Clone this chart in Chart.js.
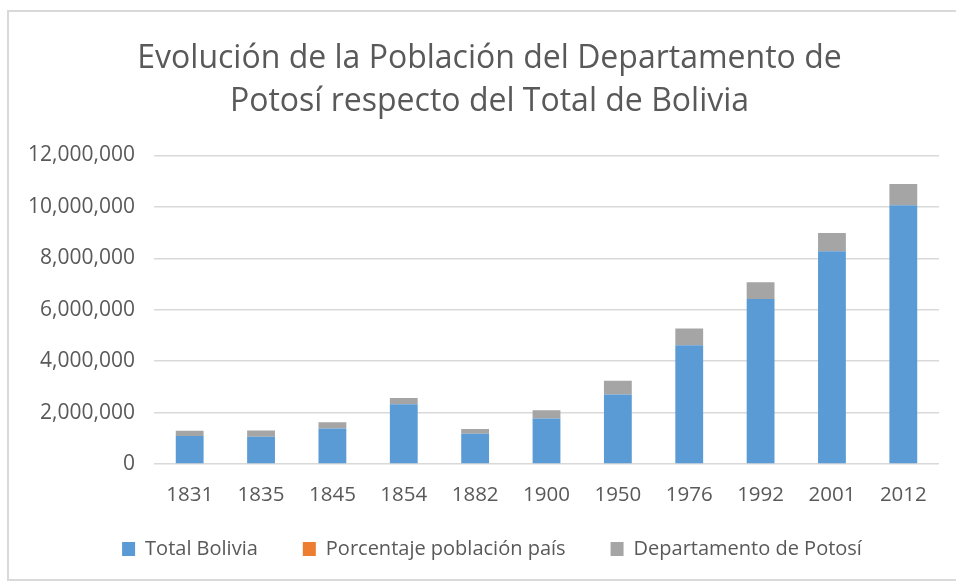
<!DOCTYPE html>
<html>
<head>
<meta charset="utf-8">
<script src="https://cdn.jsdelivr.net/npm/chart.js@4/dist/chart.umd.min.js"></script>
<style>
  html, body { margin: 0; padding: 0; background: #fff; overflow: hidden; width: 956px; height: 581px; }
  #frame { position: absolute; left: 7px; top: 10px; width: 947px; height: 567px;
           border-left: 2px solid #d9d9d9; border-top: 2px solid #d9d9d9; border-bottom: 2px solid #d9d9d9; background: #fff; }
  #c { display: block; }
</style>
</head>
<body>
<div id="frame"><canvas id="c" width="947" height="567"></canvas></div>
<script>
const titleLines = ['Evolución de la Población del Departamento de', 'Potosí respecto del Total de Bolivia'];
const years = ['1831', '1835', '1845', '1854', '1882', '1900', '1950', '1976', '1992', '2001', '2012'];
const totalBolivia = [1088768, 1060777, 1378896, 2326126, 1172156, 1766451, 2704165, 4613486, 6420792, 8274325, 10059856];
const porcentajePais = [20.3, 23.1, 17.6, 10.5, 17.1, 18.4, 19.8, 14.3, 10.1, 8.6, 8.2];
const departamentoPotosi = [200000, 245000, 243269, 240000, 190000, 325615, 534399, 657743, 645889, 709013, 828093];
const yTicks = [0, 2000000, 4000000, 6000000, 8000000, 10000000, 12000000];

const textColor = '#595959';
const font = 'Open Sans';

const shiftBlocks = {
  id: 'shiftBlocks',
  beforeLayout(chart) {
    const lg = chart.legend;
    if (lg && !lg._patchedFit) {
      const origFit = lg.fit.bind(lg);
      lg.fit = function () { origFit(); this.height = 60; };
      lg._patchedFit = true;
    }
  },
  afterLayout(chart) {
    if (chart.titleBlock) { chart.titleBlock.left += 31; }
    if (chart.legend) { chart.legend.left += 36; chart.legend.top -= 15; }
  }
};

new Chart(document.getElementById('c'), {
  type: 'bar',
  data: {
    labels: years,
    datasets: [
      { label: 'Total Bolivia', data: totalBolivia, backgroundColor: '#5b9bd5', stack: 's' },
      { label: 'Porcentaje población país', data: porcentajePais, backgroundColor: '#ed7d31', stack: 's' },
      { label: 'Departamento de Potosí', data: departamentoPotosi, backgroundColor: '#a5a5a5', stack: 's' }
    ]
  },
  plugins: [shiftBlocks],
  options: {
    responsive: false,
    animation: false,
    devicePixelRatio: 1,
    layout: { padding: { left: 0, right: 17, top: 0, bottom: 10 } },
    datasets: { bar: { categoryPercentage: 1, barPercentage: 0.39 } },
    plugins: {
      tooltip: { enabled: false },
      title: {
        display: true,
        text: titleLines,
        color: textColor,
        font: { family: font, size: 32, weight: 'normal', lineHeight: 1.35 },
        padding: { top: 25, bottom: 32 }
      },
      legend: {
        position: 'bottom',
        labels: {
          color: textColor,
          font: { family: font, size: 20 },
          boxWidth: 13,
          boxHeight: 14,
          padding: 45
        }
      }
    },
    scales: {
      x: {
        stacked: true,
        afterFit: (s) => { s.height = 45; },
        grid: { display: false, drawTicks: false },
        border: { display: false },
        ticks: { color: textColor, font: { family: font, size: 20.5 }, padding: 19, maxRotation: 0 }
      },
      y: {
        stacked: true,
        min: 0,
        max: 12000000,
        afterBuildTicks: (s) => { s.ticks = yTicks.map(v => ({ value: v })); },
        afterFit: (s) => { s.width = 145; },
        grid: { color: '#d9d9d9', lineWidth: 1.5, drawTicks: false },
        border: { display: false },
        ticks: {
          color: textColor,
          font: { family: font, size: 21 },
          padding: 19,
          callback: (v) => Number(v).toLocaleString('en-US')
        }
      }
    }
  }
});
</script>
</body>
</html>
